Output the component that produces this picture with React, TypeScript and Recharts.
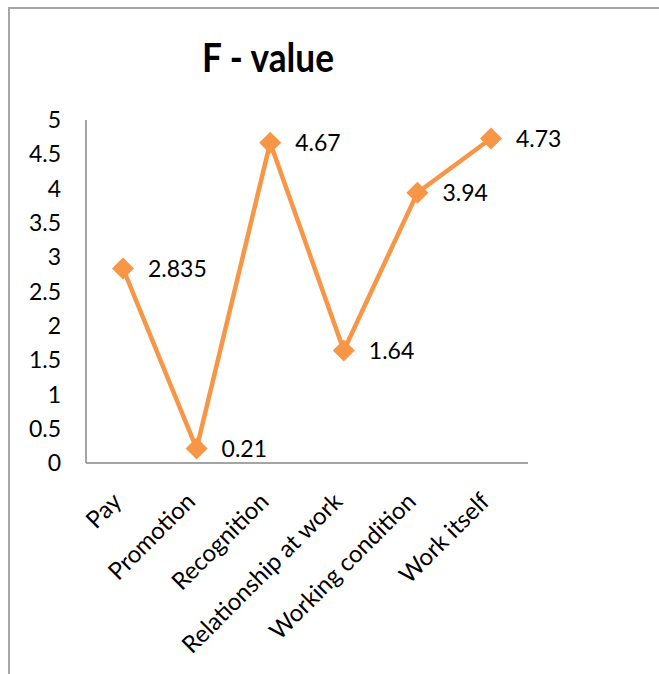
import { LineChart, Line, XAxis, YAxis, LabelList } from "recharts";

const categories = ["Pay", "Promotion", "Recognition", "Relationship at work", "Working condition", "Work itself"];
const fValues = [2.835, 0.21, 4.67, 1.64, 3.94, 4.73];
const yTicks = [0, 0.5, 1, 1.5, 2, 2.5, 3, 3.5, 4, 4.5, 5];

const chartData = categories.map((name, i) => ({ name, value: fValues[i] }));

const ORANGE = "#F79646";
const AXIS = "#868686";
const FONT = "Lato, 'Open Sans', sans-serif";

function Diamond(props: any) {
  const { cx, cy } = props;
  if (cx == null || cy == null) return null;
  const r = 11;
  return (
    <polygon
      points={`${cx},${cy - r} ${cx + r},${cy} ${cx},${cy + r} ${cx - r},${cy}`}
      fill={ORANGE}
    />
  );
}

function SlantTick(props: any) {
  const { x, y, payload } = props;
  const tx = x;
  const ty = y + 32;
  return (
    <text
      x={tx}
      y={ty}
      transform={`rotate(-45, ${tx}, ${ty})`}
      textAnchor="end"
      fontSize={24}
      fontFamily={FONT}
      fill="#000"
    >
      {payload.value}
    </text>
  );
}

function ValueLabel(props: any) {
  const { x, y, value } = props;
  return (
    <text x={x + 25} y={y} dy="0.36em" fontSize={23} fontFamily={FONT} fill="#000">
      {value}
    </text>
  );
}

export default function App() {
  return (
    <div style={{ position: "absolute", left: 0, top: 0, width: 659, height: 674, background: "#fff" }}>
      <div
        style={{
          position: "absolute",
          left: 8,
          top: 7,
          right: 0,
          bottom: 0,
          borderTop: "2px solid #a6a6a6",
          borderLeft: "2px solid #a6a6a6",
        }}
      />
      <div
        style={{
          position: "absolute",
          left: 168,
          top: 27,
          width: 200,
          textAlign: "center",
          fontFamily: FONT,
          fontWeight: 700,
          fontSize: 40,
          lineHeight: "60px",
          color: "#000",
          transform: "scaleX(0.88)",
          transformOrigin: "center",
        }}
      >
        F - value
      </div>
      <LineChart
        width={659}
        height={674}
        data={chartData}
        margin={{ top: 120, right: 131, bottom: 0, left: 0 }}
        style={{ position: "absolute", left: 0, top: 0 }}
      >
        <XAxis
          dataKey="name"
          height={211}
          interval={0}
          tickLine={false}
          axisLine={{ stroke: AXIS, strokeWidth: 1.5 }}
          padding={{ left: 37, right: 37 }}
          tick={<SlantTick />}
        />
        <YAxis
          width={86}
          domain={[0, 5]}
          ticks={yTicks}
          tickLine={false}
          tickSize={0}
          tickMargin={25}
          axisLine={{ stroke: AXIS, strokeWidth: 1.5 }}
          tick={{ fill: "#000", fontSize: 23, fontFamily: FONT }}
        />
        <Line
          type="linear"
          dataKey="value"
          stroke={ORANGE}
          strokeWidth={4.5}
          dot={<Diamond />}
          activeDot={false}
          isAnimationActive={false}
        >
          <LabelList dataKey="value" content={<ValueLabel />} />
        </Line>
      </LineChart>
    </div>
  );
}
